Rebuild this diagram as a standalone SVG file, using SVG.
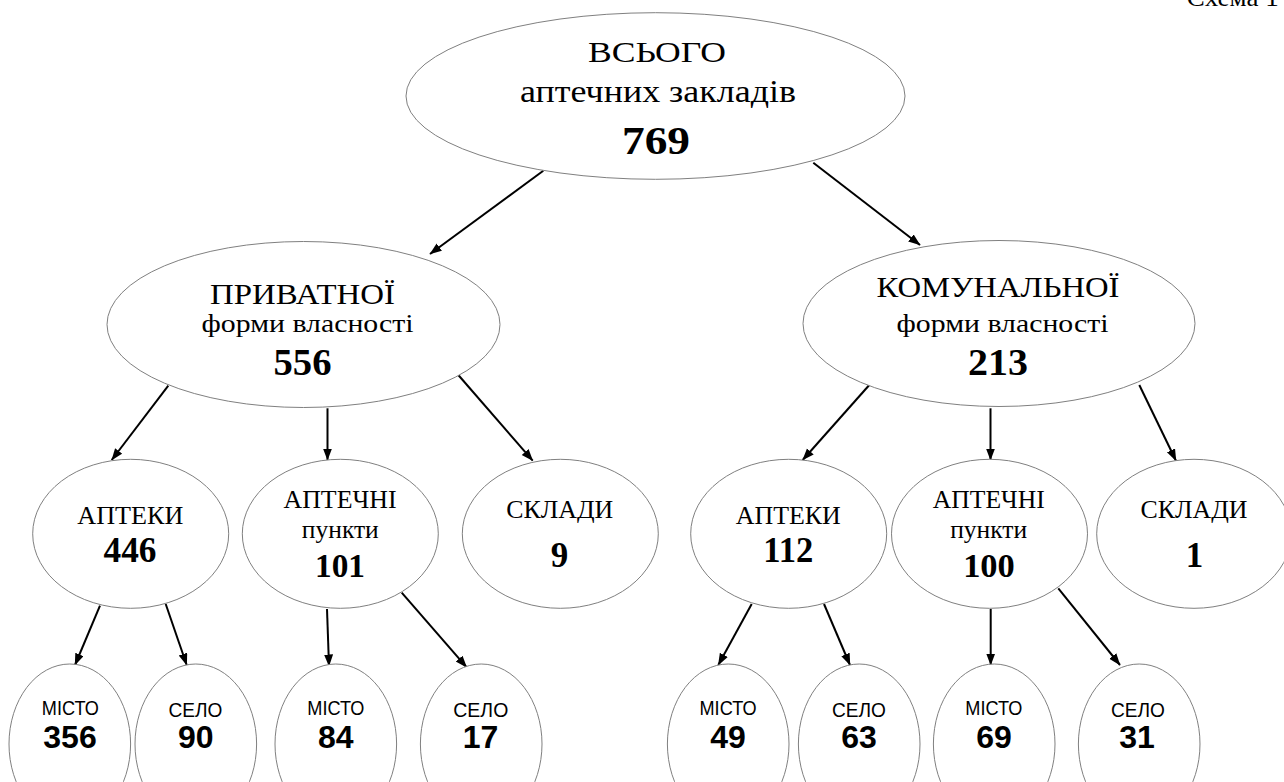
<svg xmlns="http://www.w3.org/2000/svg" width="1284" height="782" viewBox="0 0 1284 782">
<style>
.n{fill:#fff;stroke:#808080;stroke-width:1}
.s{font-family:"Liberation Serif","Times New Roman",serif;fill:#000;text-anchor:middle}
.sb{font-family:"Liberation Serif","Times New Roman",serif;font-weight:bold;fill:#000;text-anchor:middle}
.a{font-family:"Liberation Sans",Arial,sans-serif;fill:#000;text-anchor:middle}
.ab{font-family:"Liberation Sans",Arial,sans-serif;font-weight:bold;fill:#000;text-anchor:middle}
.c line{stroke:#000;stroke-width:2;marker-end:url(#ah)}
</style>
<defs>
<marker id="ah" markerUnits="userSpaceOnUse" markerWidth="13" markerHeight="10" refX="11.5" refY="4.5" orient="auto">
<path d="M0,0 L12,4.5 L0,9 z" fill="#000"/>
</marker>
</defs>
<rect width="1284" height="782" fill="#fff"/>
<text font-family="Liberation Serif, Times New Roman, serif" x="1186.7" y="6" font-size="25" textLength="92" lengthAdjust="spacingAndGlyphs">Схема 1</text>

<g class="c" id="connectors">
<line x1="543.3" y1="170.7" x2="430" y2="254"/>
<line x1="813.3" y1="162.7" x2="920" y2="245"/>
<line x1="168.3" y1="385.7" x2="111.7" y2="460"/>
<line x1="327.5" y1="408.3" x2="327.5" y2="460"/>
<line x1="458.3" y1="375" x2="532.7" y2="460.7"/>
<line x1="869.3" y1="385" x2="802.7" y2="460"/>
<line x1="990.5" y1="408.3" x2="990.5" y2="460"/>
<line x1="1139.3" y1="385" x2="1176" y2="460.7"/>
<line x1="100" y1="605.7" x2="75" y2="665"/>
<line x1="165.7" y1="604" x2="186.7" y2="665"/>
<line x1="327" y1="609" x2="329" y2="666"/>
<line x1="401.7" y1="592.7" x2="466.7" y2="667.3"/>
<line x1="751.7" y1="604" x2="718.3" y2="665"/>
<line x1="824" y1="604" x2="850" y2="665"/>
<line x1="990.7" y1="609" x2="990.7" y2="665"/>
<line x1="1058.3" y1="588.3" x2="1120" y2="665"/>
</g>

<g id="total">
<ellipse class="n" cx="655.5" cy="96" rx="249.5" ry="83.3"/>
<text class="s" x="657" y="62" font-size="30" textLength="138" lengthAdjust="spacingAndGlyphs">ВСЬОГО</text>
<text class="s" x="658" y="102" font-size="31" textLength="276" lengthAdjust="spacingAndGlyphs">аптечних закладів</text>
<text class="sb" x="656" y="154" font-size="40" textLength="68" lengthAdjust="spacingAndGlyphs">769</text>
</g>

<g id="private">
<ellipse class="n" cx="303.5" cy="324.5" rx="196.5" ry="83"/>
<text class="s" x="302.5" y="304" font-size="29" textLength="185" lengthAdjust="spacingAndGlyphs">ПРИВАТНОЇ</text>
<text class="s" x="307.5" y="331.7" font-size="26" textLength="212" lengthAdjust="spacingAndGlyphs">форми власності</text>
<text class="sb" x="302.5" y="375" font-size="37" textLength="58" lengthAdjust="spacingAndGlyphs">556</text>
</g>

<g id="communal">
<ellipse class="n" cx="999" cy="323.5" rx="196" ry="83"/>
<text class="s" x="998" y="297" font-size="29" textLength="243" lengthAdjust="spacingAndGlyphs">КОМУНАЛЬНОЇ</text>
<text class="s" x="1002.5" y="331.7" font-size="26" textLength="212" lengthAdjust="spacingAndGlyphs">форми власності</text>
<text class="sb" x="998" y="375" font-size="37" textLength="60" lengthAdjust="spacingAndGlyphs">213</text>
</g>

<g id="p-pharmacies">
<ellipse class="n" cx="130.7" cy="533.8" rx="98" ry="74.5"/>
<text class="s" x="130.3" y="524.3" font-size="26" textLength="106" lengthAdjust="spacingAndGlyphs">АПТЕКИ</text>
<text class="sb" x="130" y="561.7" font-size="35" textLength="53" lengthAdjust="spacingAndGlyphs">446</text>
</g>

<g id="p-points">
<ellipse class="n" cx="340.3" cy="533.8" rx="98" ry="74.5"/>
<text class="s" x="340" y="508.3" font-size="25" textLength="113" lengthAdjust="spacingAndGlyphs">АПТЕЧНІ</text>
<text class="s" x="340.3" y="538.3" font-size="26" textLength="77" lengthAdjust="spacingAndGlyphs">пункти</text>
<text class="sb" x="340" y="576.7" font-size="34" textLength="50" lengthAdjust="spacingAndGlyphs">101</text>
</g>

<g id="p-warehouses">
<ellipse class="n" cx="560.3" cy="533.8" rx="98" ry="74.5"/>
<text class="s" x="559.7" y="518.3" font-size="26" textLength="107" lengthAdjust="spacingAndGlyphs">СКЛАДИ</text>
<text class="sb" x="559.5" y="567.3" font-size="35">9</text>
</g>

<g id="c-pharmacies">
<ellipse class="n" cx="788.7" cy="533.8" rx="98" ry="74.5"/>
<text class="s" x="788.3" y="524.3" font-size="26" textLength="105" lengthAdjust="spacingAndGlyphs">АПТЕКИ</text>
<text class="sb" x="788.3" y="561.7" font-size="35" textLength="50" lengthAdjust="spacingAndGlyphs">112</text>
</g>

<g id="c-points">
<ellipse class="n" cx="989.5" cy="533.8" rx="98" ry="74.5"/>
<text class="s" x="988.8" y="508.3" font-size="25" textLength="112" lengthAdjust="spacingAndGlyphs">АПТЕЧНІ</text>
<text class="s" x="988.7" y="538.3" font-size="26" textLength="77" lengthAdjust="spacingAndGlyphs">пункти</text>
<text class="sb" x="989" y="576.7" font-size="34" textLength="51.7" lengthAdjust="spacingAndGlyphs">100</text>
</g>

<g id="c-warehouses">
<ellipse class="n" cx="1194" cy="533.8" rx="97.3" ry="74.5"/>
<text class="s" x="1194" y="518.3" font-size="26" textLength="107" lengthAdjust="spacingAndGlyphs">СКЛАДИ</text>
<text class="sb" x="1194.5" y="567.3" font-size="35">1</text>
</g>

<g id="p-ph-city">
<ellipse class="n" cx="69.8" cy="744" rx="60.8" ry="80"/>
<text class="a" x="70.3" y="715" font-size="19.5" textLength="57" lengthAdjust="spacingAndGlyphs">МІСТО</text>
<text class="ab" x="70" y="748.3" font-size="32">356</text>
</g>
<g id="p-ph-village">
<ellipse class="n" cx="195.8" cy="744" rx="60.8" ry="80"/>
<text class="a" x="195.5" y="717.3" font-size="19.5" textLength="54" lengthAdjust="spacingAndGlyphs">СЕЛО</text>
<text class="ab" x="195.8" y="748.3" font-size="32">90</text>
</g>
<g id="p-pt-city">
<ellipse class="n" cx="335.8" cy="744" rx="60.8" ry="80"/>
<text class="a" x="335.8" y="715" font-size="19.5" textLength="57" lengthAdjust="spacingAndGlyphs">МІСТО</text>
<text class="ab" x="335.8" y="748.3" font-size="32">84</text>
</g>
<g id="p-pt-village">
<ellipse class="n" cx="481.2" cy="744" rx="60.8" ry="80"/>
<text class="a" x="480.8" y="717.3" font-size="19.5" textLength="55" lengthAdjust="spacingAndGlyphs">СЕЛО</text>
<text class="ab" x="480.5" y="748.3" font-size="32">17</text>
</g>
<g id="c-ph-city">
<ellipse class="n" cx="728.2" cy="744" rx="60.8" ry="80"/>
<text class="a" x="728" y="715" font-size="19.5" textLength="57" lengthAdjust="spacingAndGlyphs">МІСТО</text>
<text class="ab" x="728" y="748.3" font-size="32">49</text>
</g>
<g id="c-ph-village">
<ellipse class="n" cx="859.2" cy="744" rx="60.8" ry="80"/>
<text class="a" x="859" y="717.3" font-size="19.5" textLength="54" lengthAdjust="spacingAndGlyphs">СЕЛО</text>
<text class="ab" x="859" y="748.3" font-size="32">63</text>
</g>
<g id="c-pt-city">
<ellipse class="n" cx="994.2" cy="744" rx="60.8" ry="80"/>
<text class="a" x="993.8" y="715" font-size="19.5" textLength="57" lengthAdjust="spacingAndGlyphs">МІСТО</text>
<text class="ab" x="994" y="748.3" font-size="32">69</text>
</g>
<g id="c-pt-village">
<ellipse class="n" cx="1139.2" cy="744" rx="60.8" ry="80"/>
<text class="a" x="1138" y="717.3" font-size="19.5" textLength="54" lengthAdjust="spacingAndGlyphs">СЕЛО</text>
<text class="ab" x="1137" y="748.3" font-size="32">31</text>
</g>
</svg>
